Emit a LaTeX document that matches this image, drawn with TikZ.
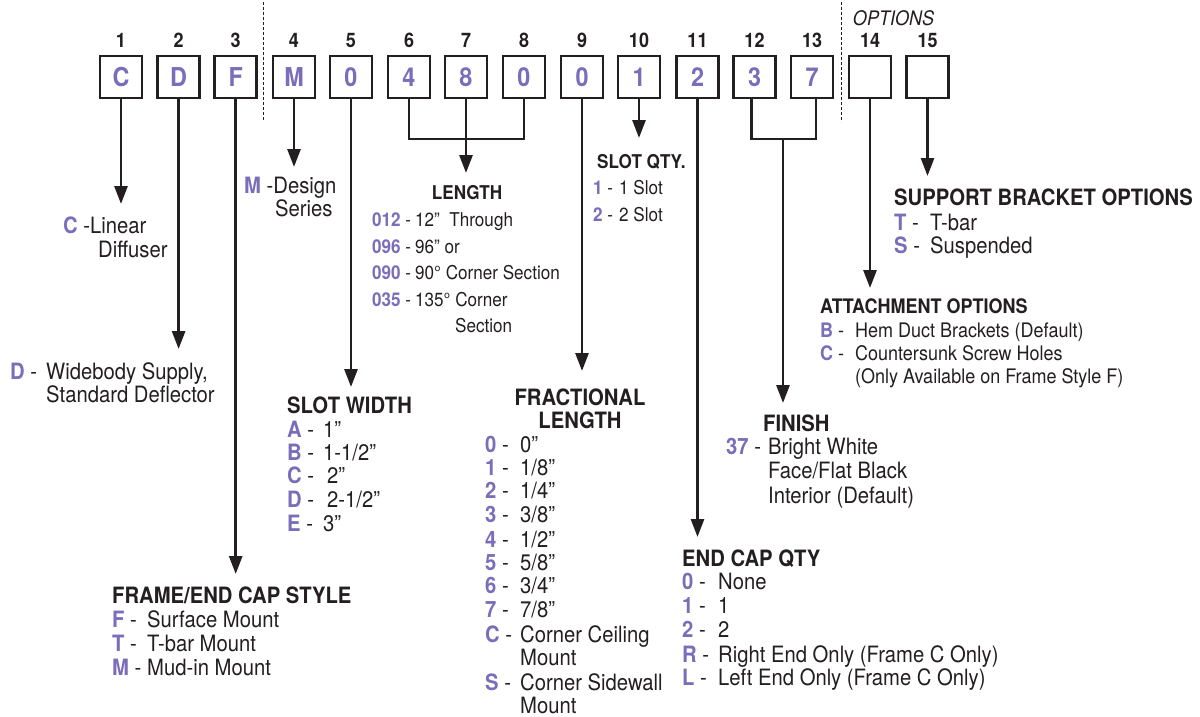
\documentclass[tikz,border=0pt]{standalone}
\usepackage{fontspec}
\setmainfont{TeX Gyre Heros}[FakeStretch=0.9]
\usetikzlibrary{arrows.meta}
\definecolor{ink}{RGB}{35,31,32}
\definecolor{purp}{RGB}{123,109,185}
\newcommand\fN{\fontsize{22.5}{24}\selectfont}
\newcommand\fS{\fontsize{19}{24}\selectfont}
\newcommand\fA{\fontsize{20}{24}\selectfont}
\newcommand\fB{\fontsize{26}{28}\selectfont\bfseries}
\newcommand\fD{\fontsize{20}{22}\selectfont\bfseries}
\newcommand\opt[3]{\makebox[#1][l]{\textcolor{purp}{\bfseries #2} -}#3}
\newcommand\cd[1]{\textcolor{purp}{\bfseries #1}}
\begin{document}
\begin{tikzpicture}[x=1pt,y=-1pt,
  codebox/.style={draw=ink, line width=2.5pt, minimum width=42pt, minimum height=42pt, inner sep=0pt, font=\fB, text=purp},
  txt/.style={anchor=base west, inner sep=0pt, text=ink, font=\fN},
  txtS/.style={txt, font=\fS},
  txtA/.style={txt, font=\fA},
  hdr/.style={txt, font=\fN\bfseries},
  num/.style={anchor=base, inner sep=0pt, text=ink, font=\fD},
  ln/.style={draw=ink, line width=2.8pt},
  arr/.style={ln, -{Triangle[width=13pt,length=18pt]}},
  sep/.style={draw=ink, line width=1pt, dash pattern=on 3pt off 2pt}
]
\fill[white] (0,0) rectangle (1200,717);
\useasboundingbox (0,0) rectangle (1200,717);

% separators
\draw[sep] (263,2) -- (263,120);
\draw[sep] (841,2) -- (841,122);
\node[anchor=base, inner sep=0pt, text=ink, font=\fontsize{20}{22}\selectfont\itshape] (opts) at (893.5,26) {OPTIONS};

% boxes
\foreach \i/\x/\t in {1/121/C,2/178.6/D,3/235.7/F,4/294/M,5/351/0,6/409/4,7/466/8,8/524/0,9/582/0,10/639/1,11/697.5/2,12/754.5/3,13/812/7,14/870/{},15/927.5/{}}{
  \node[codebox] (b\i) at (\x,77) {\t};
  \node[num] (n\i) at (\x,48) {\i};
}

% connector end points
\coordinate (t1) at (121,204);
\coordinate (t2) at (178.6,349);
\coordinate (t3) at (235.7,574);
\coordinate (t4) at (294,167);
\coordinate (t5) at (351,387);
\coordinate (j68) at (466,139);
\coordinate (t7) at (466,173);
\coordinate (t9) at (582,371);
\coordinate (t10) at (639,138);
\coordinate (t11) at (697.5,537);
\coordinate (j1213) at (783,139);
\coordinate (t1213) at (783,403);
\coordinate (t14) at (870,288);
\coordinate (t15) at (927.5,176);

\draw[arr] (b1.south) -- (t1);
\draw[arr] (b2.south) -- (t2);
\draw[arr] (b3.south) -- (t3);
\draw[arr] (b4.south) -- (t4);
\draw[arr] (b5.south) -- (t5);
\draw[ln] (b6.south) |- (j68) -| (b8.south);
\draw[arr] (b7.south) -- (t7);
\draw[arr] (b9.south) -- (t9);
\draw[arr] (b10.south) -- (t10);
\draw[arr] (b11.south) -- (t11);
\draw[ln] ([xshift=-3pt]b12.south) |- (j1213) -| ([xshift=4pt]b13.south);
\draw[arr] (j1213) -- (t1213);
\draw[arr] (b14.south) -- (t14);
\draw[arr] (b15.south) -- (t15);

% 1: C
\node[txt] (c1) at (63,233) {\cd{C} -Linear};
\node[txt] (c2) at (98,257) {Diffuser};
% 4: M
\node[txt] (m1) at (244,193) {\cd{M} -Design};
\node[txt] (m2) at (275,216) {Series};
% 2: D
\node[txt] (d1) at (10,379) {\opt{36pt}{D}{Widebody Supply,}};
\node[txt] (d2) at (46,402) {Standard Deflector};

% LENGTH
\node[anchor=base, inner sep=0pt, text=ink, font=\fS\bfseries] (lh) at (467,199) {LENGTH};
\node[txtS] (l1) at (372,226) {\opt{43pt}{012}{12”\ \ Through}};
\node[txtS] (l2) at (372,253) {\opt{43pt}{096}{96” or}};
\node[txtS] (l3) at (372,279) {\opt{43pt}{090}{90° Corner Section}};
\node[txtS] (l4) at (372,306) {\opt{43pt}{035}{135° Corner}};
\node[txtS] (l5) at (455,332) {Section};

% SLOT QTY
\node[txtS, font=\fS\bfseries] (qh) at (597,168) {SLOT QTY.};
\node[txtS] (q1) at (593,194) {\opt{26pt}{1}{1 Slot}};
\node[txtS] (q2) at (593,221) {\opt{26pt}{2}{2 Slot}};

% SUPPORT BRACKET OPTIONS
\node[hdr] (sh) at (894,205) {SUPPORT BRACKET OPTIONS};
\node[txt] (s1) at (894,230) {\opt{36pt}{T}{T-bar}};
\node[txt] (s2) at (894,253) {\opt{36pt}{S}{Suspended}};

% ATTACHMENT OPTIONS
\node[txtA, font=\fA\bfseries] (ah) at (820,313) {ATTACHMENT OPTIONS};
\node[txtA] (a1) at (820,337) {\opt{35pt}{B}{Hem Duct Brackets (Default)}};
\node[txtA] (a2) at (820,360) {\opt{35pt}{C}{Countersunk Screw Holes}};
\node[txtA] (a3) at (855,383) {(Only Available on Frame Style F)};

% SLOT WIDTH
\node[hdr] (wh) at (287,413) {SLOT WIDTH};
\node[txt] (w1) at (287,437) {\opt{36pt}{A}{1”}};
\node[txt] (w2) at (287,460) {\opt{36pt}{B}{1-1/2”}};
\node[txt] (w3) at (287,483) {\opt{40pt}{C}{2”}};
\node[txt] (w4) at (287,507) {\opt{40pt}{D}{2-1/2”}};
\node[txt] (w5) at (287,531) {\opt{36pt}{E}{3”}};

% FRACTIONAL LENGTH
\node[anchor=base, inner sep=0pt, text=ink, font=\fN\bfseries] (fh1) at (580,405) {FRACTIONAL};
\node[anchor=base, inner sep=0pt, text=ink, font=\fN\bfseries] (fh2) at (580,428) {LENGTH};
\node[txt] (f0) at (485,452) {\opt{35pt}{0}{0”}};
\node[txt] (f1) at (485,475) {\opt{35pt}{1}{1/8”}};
\node[txt] (f2) at (485,498) {\opt{35pt}{2}{1/4”}};
\node[txt] (f3) at (485,522) {\opt{35pt}{3}{3/8”}};
\node[txt] (f4) at (485,547) {\opt{35pt}{4}{1/2”}};
\node[txt] (f5) at (485,570) {\opt{35pt}{5}{5/8”}};
\node[txt] (f6) at (485,593) {\opt{35pt}{6}{3/4”}};
\node[txt] (f7) at (485,617) {\opt{35pt}{7}{7/8”}};
\node[txt] (fc) at (485,642) {\opt{35pt}{C}{Corner Ceiling}};
\node[txt] (fcm) at (520,665) {Mount};
\node[txt] (fs) at (485,690) {\opt{35pt}{S}{Corner Sidewall}};
\node[txt] (fsm) at (520,713) {Mount};

% FINISH
\node[hdr] (fih) at (763,431) {FINISH};
\node[txt] (fi1) at (726,454) {\opt{42pt}{37}{Bright White}};
\node[txt] (fi2) at (768,478) {Face/Flat Black};
\node[txt] (fi3) at (768,503) {Interior (Default)};

% END CAP QTY
\node[hdr] (eh) at (682,566) {END CAP QTY};
\node[txt] (e0) at (682,589) {\opt{36pt}{0}{None}};
\node[txt] (e1) at (682,613) {\opt{36pt}{1}{1}};
\node[txt] (e2) at (682,637) {\opt{36pt}{2}{2}};
\node[txt] (er) at (682,662) {\opt{36pt}{R}{Right End Only (Frame C Only)}};
\node[txt] (el) at (682,685) {\opt{36pt}{L}{Left End Only (Frame C Only)}};

% FRAME/END CAP STYLE
\node[hdr] (frh) at (112,603) {FRAME/END CAP STYLE};
\node[txt] (fr1) at (112,627) {\opt{35pt}{F}{Surface Mount}};
\node[txt] (fr2) at (112,651) {\opt{35pt}{T}{T-bar Mount}};
\node[txt] (fr3) at (112,675) {\opt{35pt}{M}{Mud-in Mount}};
\end{tikzpicture}
\end{document}
